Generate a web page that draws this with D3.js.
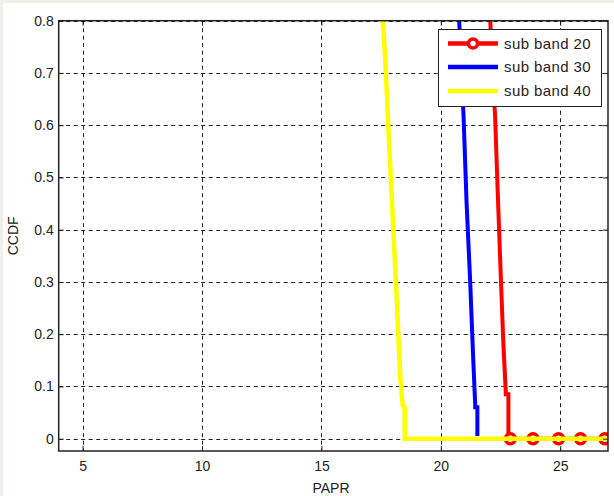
<!DOCTYPE html>
<html>
<head>
<meta charset="utf-8">
<script src="https://cdn.jsdelivr.net/npm/d3@7"></script>
<style>
  html, body { margin: 0; padding: 0; background: #f0f0ea; }
  svg { display: block; }
</style>
</head>
<body>
<svg id="chart" width="614" height="496"></svg>
<script>
// ---- data ----
const xTicks = [5, 10, 15, 20, 25];
const yTicks = [0, 0.1, 0.2, 0.3, 0.4, 0.5, 0.6, 0.7, 0.8];
const seriesNames = ["sub band 20", "sub band 30", "sub band 40"];

const papr20 = [22.07, 22.15, 22.27, 22.40, 22.52, 22.62, 22.72, 22.72, 22.83, 22.83, 22.91, 23.86, 24.93, 25.85, 26.87, 27];
const ccdf20 = [0.80, 0.72, 0.62, 0.45, 0.30, 0.18, 0.09, 0.085, 0.085, 0.01, 0, 0, 0, 0, 0, 0];
const marker20X = [22.91, 23.86, 24.93, 25.85, 26.87];
const marker20Y = [0, 0, 0, 0, 0];

const papr30 = [20.77, 20.85, 20.95, 21.08, 21.23, 21.35, 21.44, 21.44, 21.53, 21.53];
const ccdf30 = [0.80, 0.71, 0.62, 0.45, 0.30, 0.16, 0.065, 0.06, 0.06, 0.005];

const papr40 = [17.56, 17.60, 17.68, 17.82, 17.98, 18.14, 18.30, 18.40, 18.40, 18.49, 18.49, 27];
const ccdf40 = [0.80, 0.78, 0.72, 0.58, 0.43, 0.28, 0.12, 0.065, 0.065, 0.06, 0, 0];

const colors = ["#ff0000", "#0000ff", "#ffff00"];

// ---- layout ----
const W = 614, H = 496;
const L = 58.7, R = 608, T = 20.7, B = 451;

const svg = d3.select("#chart");
svg.append("rect").attr("x", 3).attr("y", 3).attr("width", W - 3).attr("height", H - 3).attr("fill", "#ffffff");

const x = d3.scaleLinear().domain([4, 27]).range([L, R]);
const y = d3.scaleLinear().domain([-0.0235, 0.8]).range([B, T]);

const font = "'Liberation Sans', Arial, sans-serif";

// plot bg
svg.append("rect").attr("x", L).attr("y", T).attr("width", R - L).attr("height", B - T).attr("fill", "#fff");

// grid
const grid = svg.append("g").attr("stroke", "#222").attr("stroke-width", 1).attr("stroke-dasharray", "4,3.5");
grid.selectAll(".gx").data(xTicks).join("line")
  .attr("x1", d => Math.round(x(d)) + 0.5).attr("x2", d => Math.round(x(d)) + 0.5)
  .attr("y1", T).attr("y2", B);
grid.selectAll(".gy").data(yTicks).join("line")
  .attr("y1", d => Math.round(y(d)) + 0.5).attr("y2", d => Math.round(y(d)) + 0.5)
  .attr("x1", L).attr("x2", R);

// clip
svg.append("clipPath").attr("id", "clip").append("rect")
  .attr("x", L).attr("y", T).attr("width", R - L).attr("height", B - T);
const plot = svg.append("g").attr("clip-path", "url(#clip)");

const line = d3.line().x(d => x(d[0])).y(d => y(d[1]));
const s20 = papr20.map((p, i) => [p, ccdf20[i]]);
const s30 = papr30.map((p, i) => [p, ccdf30[i]]);
const s40 = papr40.map((p, i) => [p, ccdf40[i]]);

plot.append("path").datum(s20).attr("d", line).attr("fill", "none")
  .attr("stroke", colors[0]).attr("stroke-width", 4).attr("stroke-linejoin", "miter");
plot.selectAll(".m20").data(marker20X.map((p, i) => [p, marker20Y[i]])).join("circle")
  .attr("cx", d => x(d[0])).attr("cy", d => y(d[1])).attr("r", 5)
  .attr("fill", "#fff").attr("stroke", colors[0]).attr("stroke-width", 3.5);
plot.append("path").datum(s30).attr("d", line).attr("fill", "none")
  .attr("stroke", colors[1]).attr("stroke-width", 4);
plot.append("path").datum(s40).attr("d", line).attr("fill", "none")
  .attr("stroke", colors[2]).attr("stroke-width", 4.5);

// axes (ticks inward)
const xAxisB = d3.axisBottom(x).tickValues(xTicks).tickSize(-5).tickPadding(10).tickFormat(d3.format("d"));
const xAxisT = d3.axisTop(x).tickValues(xTicks).tickSize(-5).tickFormat("");
const yAxisL = d3.axisLeft(y).tickValues(yTicks).tickSize(-5).tickPadding(5).tickFormat(d => d === 0 ? "0" : d3.format(".1f")(d));
const yAxisR = d3.axisRight(y).tickValues(yTicks).tickSize(-5).tickFormat("");

function styleAxis(g) {
  g.select(".domain").remove();
  g.selectAll("line").attr("stroke", "#222").attr("stroke-width", 1);
  g.selectAll("text").attr("fill", "#222").style("font-family", font).style("font-size", "14px");
}
svg.append("g").attr("transform", `translate(0,${B})`).call(xAxisB).call(styleAxis);
svg.append("g").attr("transform", `translate(0,${T})`).call(xAxisT).call(styleAxis);
svg.append("g").attr("transform", `translate(${L},0)`).call(yAxisL).call(styleAxis);
svg.append("g").attr("transform", `translate(${R},0)`).call(yAxisR).call(styleAxis);

// box
svg.append("rect").attr("x", L).attr("y", T).attr("width", R - L).attr("height", B - T)
  .attr("fill", "none").attr("stroke", "#222").attr("stroke-width", 1.5);

// axis titles
svg.append("text").attr("x", 331).attr("y", 493).attr("text-anchor", "middle")
  .style("font-family", font).style("font-size", "14px").attr("fill", "#222").text("PAPR");
svg.append("text").attr("transform", `translate(18,${(T + B) / 2}) rotate(-90)`).attr("text-anchor", "middle")
  .style("font-family", font).style("font-size", "14px").attr("fill", "#222").text("CCDF");

// legend
const lg = svg.append("g");
lg.append("rect").attr("x", 438.5).attr("y", 29.5).attr("width", 163).attr("height", 77)
  .attr("fill", "#fff").attr("stroke", "#222").attr("stroke-width", 1);
const rowsY = [43.5, 67, 91];
seriesNames.forEach((name, i) => {
  lg.append("line").attr("x1", 448).attr("x2", 498).attr("y1", rowsY[i]).attr("y2", rowsY[i])
    .attr("stroke", colors[i]).attr("stroke-width", 4.5);
  if (i === 0) {
    lg.append("circle").attr("cx", 473).attr("cy", rowsY[i]).attr("r", 4.5)
      .attr("fill", "#fff").attr("stroke", colors[i]).attr("stroke-width", 3.5);
  }
  lg.append("text").attr("x", 504).attr("y", rowsY[i]).attr("dy", "0.36em")
    .style("font-family", font).style("font-size", "15px").style("letter-spacing", "0.4px")
    .attr("fill", "#222").text(name);
});
</script>
</body>
</html>
